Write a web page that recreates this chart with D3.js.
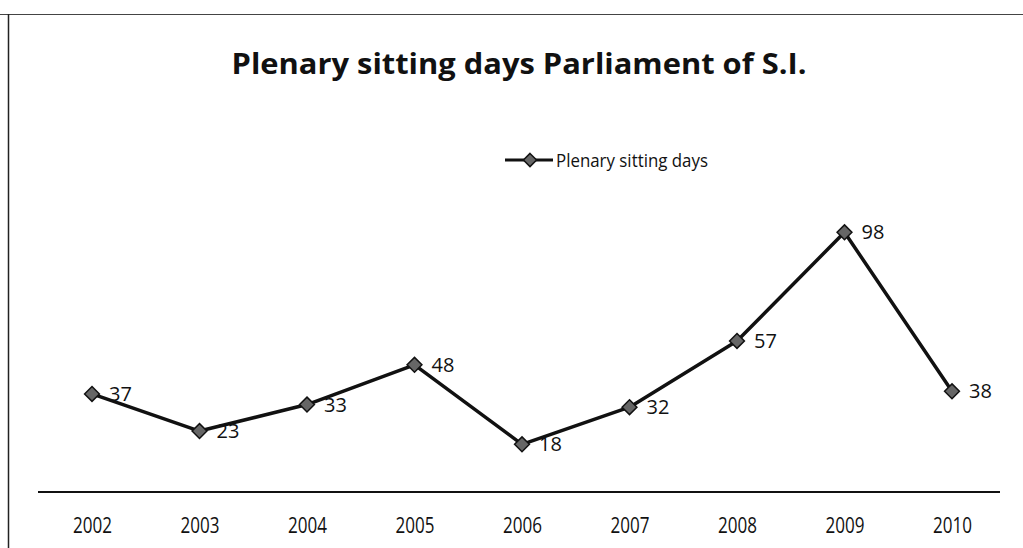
<!DOCTYPE html>
<html>
<head>
<meta charset="utf-8">
<script src="https://cdn.jsdelivr.net/npm/d3@7"></script>
<style>
  body { margin: 0; background: #fff; }
  text { font-family: "Open Sans", "Noto Sans", sans-serif; fill: #111; }
</style>
</head>
<body>
<svg width="1023" height="548"></svg>
<script>
const years = ["2002", "2003", "2004", "2005", "2006", "2007", "2008", "2009", "2010"];
const sittingDays = [37, 23, 33, 48, 18, 32, 57, 98, 38];
const seriesName = "Plenary sitting days";
const chartTitle = "Plenary sitting days Parliament of S.I.";

const data = years.map((y, i) => ({ year: y, value: sittingDays[i] }));

const svg = d3.select("svg");

// chart frame (only top and left edges visible in the scan)
svg.append("line").attr("x1", 0).attr("x2", 1023).attr("y1", 14.5).attr("y2", 14.5)
  .attr("stroke", "#444").attr("stroke-width", 1);
svg.append("line").attr("x1", 8.5).attr("x2", 8.5).attr("y1", 14).attr("y2", 548)
  .attr("stroke", "#222").attr("stroke-width", 1.5);

const x = d3.scalePoint().domain(years).range([92, 952]);
const y = d3.scaleLinear().domain([0, 100]).range([492, 227]);

// title
svg.append("text")
  .attr("x", 519).attr("y", 74)
  .attr("text-anchor", "middle")
  .attr("font-size", 29).attr("font-weight", "bold")
  .attr("textLength", 575).attr("lengthAdjust", "spacingAndGlyphs")
  .text(chartTitle);

// legend
const legend = svg.append("g").attr("transform", "translate(505,160)");
legend.append("line").attr("x1", 0).attr("x2", 48).attr("y1", 0).attr("y2", 0)
  .attr("stroke", "#111").attr("stroke-width", 3);
legend.append("path").attr("d", d3.symbol(d3.symbolDiamond2, 110)())
  .attr("transform", "translate(25,0)")
  .attr("fill", "#666").attr("stroke", "#111").attr("stroke-width", 1.5);
legend.append("text").attr("x", 51).attr("y", 7)
  .attr("font-size", 19)
  .attr("textLength", 152).attr("lengthAdjust", "spacingAndGlyphs")
  .text(seriesName);

// x axis
const xAxis = svg.append("g")
  .attr("transform", "translate(0,492)")
  .call(d3.axisBottom(x).tickSize(0).tickPadding(26));
xAxis.select(".domain").attr("d", "M38,0H1000").attr("stroke", "#111").attr("stroke-width", 2);
xAxis.selectAll("text")
  .attr("font-size", 21)
  .attr("font-family", "'Open Sans', 'Noto Sans', sans-serif")
  .attr("fill", "#111")
  .attr("textLength", 39).attr("lengthAdjust", "spacingAndGlyphs");

// line
const line = d3.line().x(d => x(d.year)).y(d => y(d.value));
svg.append("path").datum(data)
  .attr("d", line)
  .attr("fill", "none")
  .attr("stroke", "#111")
  .attr("stroke-width", 3.5)
  .attr("stroke-linejoin", "round");

// markers
svg.selectAll(".marker").data(data).enter()
  .append("path")
  .attr("class", "marker")
  .attr("d", d3.symbol(d3.symbolDiamond2, 140)())
  .attr("transform", d => `translate(${x(d.year)},${y(d.value)})`)
  .attr("fill", "#666")
  .attr("stroke", "#111")
  .attr("stroke-width", 1.5);

// data labels
svg.selectAll(".label").data(data).enter()
  .append("text")
  .attr("class", "label")
  .attr("x", d => x(d.year) + 17)
  .attr("y", d => y(d.value) + 7)
  .attr("font-size", 20)
  .text(d => d.value);
</script>
</body>
</html>
